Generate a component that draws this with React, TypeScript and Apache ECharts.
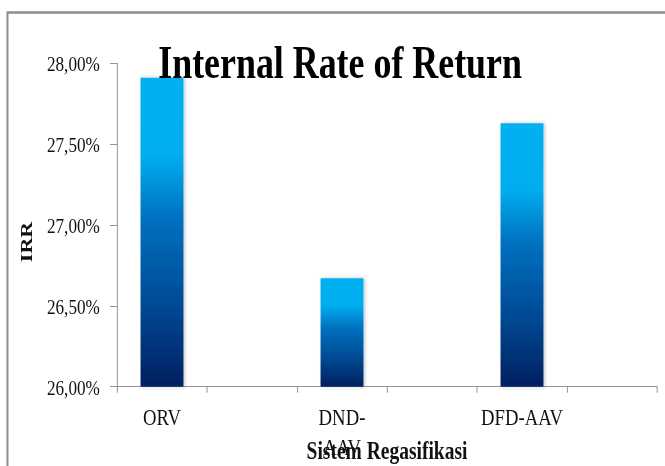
import React, { useEffect, useRef } from "react";
import * as echarts from "echarts";

// Data
const categories = ["ORV", "", "DND-AAV", "", "DFD-AAV", ""];
const irrValues: (number | null)[] = [27.91, null, 26.67, null, 27.63, null];
const yMin = 26;
const yMax = 28;
const yInterval = 0.5;
const chartTitle = "Internal Rate of Return";
const xAxisName = "Sistem Regasifikasi";
const yAxisName = "IRR";
const wrappedLabels: Record<string, string> = { "DND-AAV": "DND-\nAAV" };

const SX = 0.78; // horizontal squeeze of the reference picture
const W = Math.round(665 / SX);
const H = 466;
const FONT = "'Liberation Serif', 'Times New Roman', serif";

export default function App() {
  const ref = useRef<HTMLDivElement>(null);
  useEffect(() => {
    if (!ref.current) return;
    const chart = echarts.init(ref.current, undefined, { renderer: "svg" });
    const axisGray = "#868686";
    chart.setOption({
      animation: false,
      textStyle: { fontFamily: FONT },
      title: {
        text: chartTitle,
        left: 431,
        top: 34,
        textAlign: "center",
        textStyle: { fontFamily: FONT, fontSize: 46, fontWeight: "bold", color: "#000" },
      },
      graphic: [
        {
          type: "rect",
          z: -10,
          shape: { x: 9.6, y: 12.5, width: 1000, height: 600 },
          style: { fill: "none", stroke: "#8c8c8c", lineWidth: 2.5 },
        },
      ],
      grid: {
        left: 150,
        right: W - 842.3,
        top: 63.3,
        bottom: H - 386.7,
        containLabel: false,
        outerBoundsMode: "none",
      },
      xAxis: {
        type: "category",
        data: categories,
        boundaryGap: true,
        axisLine: { lineStyle: { color: axisGray, width: 1 } },
        axisTick: { show: true, length: 6, lineStyle: { color: axisGray }, alignWithLabel: false },
        axisLabel: {
          interval: 0,
          margin: 16,
          fontFamily: FONT,
          fontSize: 24,
          lineHeight: 30,
          color: "#111",
          formatter: (v: string) => wrappedLabels[v] ?? v,
        },
        name: xAxisName,
        nameLocation: "middle",
        nameGap: 51,
        nameMoveOverlap: false,
        nameTextStyle: { fontFamily: FONT, fontSize: 25, fontWeight: "bold", color: "#111" },
      },
      yAxis: {
        type: "value",
        min: yMin,
        max: yMax,
        interval: yInterval,
        splitLine: { show: false },
        axisLine: { show: true, lineStyle: { color: axisGray, width: 1 } },
        axisTick: { show: true, length: 9, lineStyle: { color: axisGray } },
        axisLabel: {
          margin: 22,
          fontFamily: FONT,
          fontSize: 22,
          color: "#111",
          formatter: (v: number) => v.toFixed(2).replace(".", ",") + "%",
        },
        name: yAxisName,
        nameLocation: "middle",
        nameGap: 106,
        nameRotate: 90,
        nameMoveOverlap: false,
        nameTextStyle: {
          fontFamily: FONT,
          fontSize: 22,
          fontWeight: "bold",
          color: "#111",
          padding: [0, 34, 0, 0],
        },
      },
      series: [
        {
          type: "bar",
          data: irrValues,
          barWidth: 55,
          itemStyle: {
            color: new echarts.graphic.LinearGradient(0, 0, 0, 1, [
              { offset: 0, color: "#00B0F0" },
              { offset: 0.25, color: "#00AEEF" },
              { offset: 0.45, color: "#0072C1" },
              { offset: 0.75, color: "#004791" },
              { offset: 1, color: "#002060" },
            ]),
            shadowColor: "rgba(0,0,0,0.22)",
            shadowBlur: 4,
            shadowOffsetX: 2,
          },
        },
      ],
    });
    return () => chart.dispose();
  }, []);
  return (
    <div style={{ position: "fixed", left: 0, top: 0, width: 665, height: 466, overflow: "hidden", background: "#fff" }}>
      <div
        ref={ref}
        style={{ width: W, height: H, transform: `scaleX(${SX})`, transformOrigin: "0 0" }}
      />
    </div>
  );
}
